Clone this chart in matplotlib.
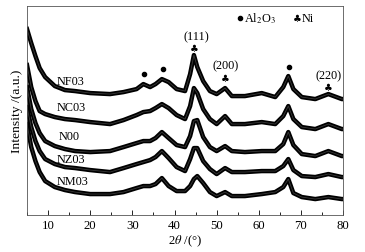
import numpy as np
import matplotlib
matplotlib.use("Agg")
import matplotlib.pyplot as plt
from matplotlib.ticker import MultipleLocator

# ================================
# DATA (intensitas relatif)
# ================================
two_theta = [5, 6, 7, 8, 9.3, 11.6, 14, 16.4, 20, 24.7, 27.9, 31, 32.6, 34.2, 35.5, 37, 38.6,
             40.5, 42.5, 43.7, 44.6, 45.4, 46.8, 48.4, 50, 52, 53.6, 56.7, 60.7, 63.9, 65.8,
             67, 68.2, 70.2, 73.4, 76.5, 79.7, 80]

nf03 = [186, 172, 159, 147, 138, 129, 125, 124, 122, 121, 123, 126, 131, 128, 131, 136, 133,
        126, 124, 141, 160, 148, 134, 124, 121, 127, 119, 119, 122, 118, 128,
        139, 126, 118, 116, 121, 116, 116]
nc03 = [150, 128, 114, 104, 101, 98, 96, 95, 93, 91, 95, 100, 103, 104, 107, 111, 107,
        100, 96, 109, 127, 122, 106, 96, 91, 99, 91, 91, 93, 91, 99,
        109, 96, 88, 86, 91, 86, 86]
n00 = [128, 106, 92, 82, 74, 69, 66, 64, 63, 64, 68, 72, 74, 74, 77, 83, 77,
       70, 68, 79, 94, 95, 78, 68, 64, 69, 64, 63, 64, 64, 71,
       83, 70, 61, 59, 64, 59, 59]
nz03 = [108, 88, 74, 64, 56, 51, 48, 47, 45, 43, 47, 51, 53, 55, 58, 64, 57,
        48, 44, 56, 67, 67, 54, 46, 41, 47, 43, 43, 44, 44, 49,
        56, 45, 39, 38, 41, 38, 38]
nm03 = [91, 68, 54, 43, 34, 28, 25, 23, 21, 21, 23, 27, 29, 29, 31, 37, 29,
        24, 24, 29, 36, 39, 32, 23, 19, 23, 19, 19, 21, 23, 28,
        36, 22, 18, 16, 18, 16, 16]

series = [nf03, nc03, n00, nz03, nm03]
names = ["NF03", "NC03", "N00", "NZ03", "NM03"]
label_pos = [(12.1, 134), (12.1, 108), (12.6, 79), (12.1, 56), (12.1, 34)]

# posisi puncak yang ditandai
hkl = ["(111)", "(200)", "(220)"]
hkl_pos = [(45.1, 179), (52.2, 150), (76.6, 140)]
ni_pos = [(44.6, 167), (52.0, 137), (76.5, 128)]
al2o3_pos = [(32.85, 141), (37.35, 146), (67.2, 148)]

# ================================
# PLOT
# ================================
plt.rcParams['mathtext.fontset'] = 'stix'
plt.rcParams['font.family'] = ['Liberation Serif', 'DejaVu Sans']

fig = plt.figure(figsize=(3.65, 2.53), dpi=100)
ax = fig.add_axes([0.074, 0.146, 0.866, 0.826])

for y in series:
    ax.plot(two_theta, y, color='black', lw=3.2)
    ax.plot(two_theta, y, color='#3a3a3a', lw=0.6)

for name, (x, y) in zip(names, label_pos):
    ax.text(x, y, name, fontsize=8.8, ha='left', va='center')

for s, (x, y) in zip(hkl, hkl_pos):
    ax.text(x, y, s, fontsize=8.8, ha='center', va='center')
for x, y in ni_pos:
    ax.text(x, y, "\u2663", fontsize=7.0, ha='center', va='center', family=['DejaVu Sans'])
for x, y in al2o3_pos:
    ax.plot(x, y, 'o', color='black', ms=3.0)

# legenda
ax.plot(55.6, 197, 'o', color='black', ms=3.0)
ax.text(56.4, 197, r"Al$_2$O$_3$", fontsize=8.8, ha='left', va='center')
ax.text(69.0, 197, "\u2663", fontsize=7.0, ha='center', va='center', family=['DejaVu Sans'])
ax.text(70.2, 197, "Ni", fontsize=8.8, ha='left', va='center')

ax.set_xlim(5, 80)
ax.set_ylim(0, 209)
ax.xaxis.set_major_locator(MultipleLocator(10))
ax.xaxis.set_minor_locator(MultipleLocator(5))
ax.tick_params(axis='x', which='both', direction='in', labelsize=9.2, pad=3)
ax.tick_params(axis='x', which='major', length=3.5, width=0.6)
ax.tick_params(axis='x', which='minor', length=2, width=0.6)
ax.set_yticks([])
for sp in ax.spines.values():
    sp.set_linewidth(0.6)
    sp.set_color('#555555')

ax.set_xlabel(r"2$\it{\theta}$ /(°)", fontsize=9.1, labelpad=1)
ax.set_ylabel("Intensity /(a.u.)", fontsize=9.7, labelpad=3)

fig.savefig("out.png", dpi=100)
